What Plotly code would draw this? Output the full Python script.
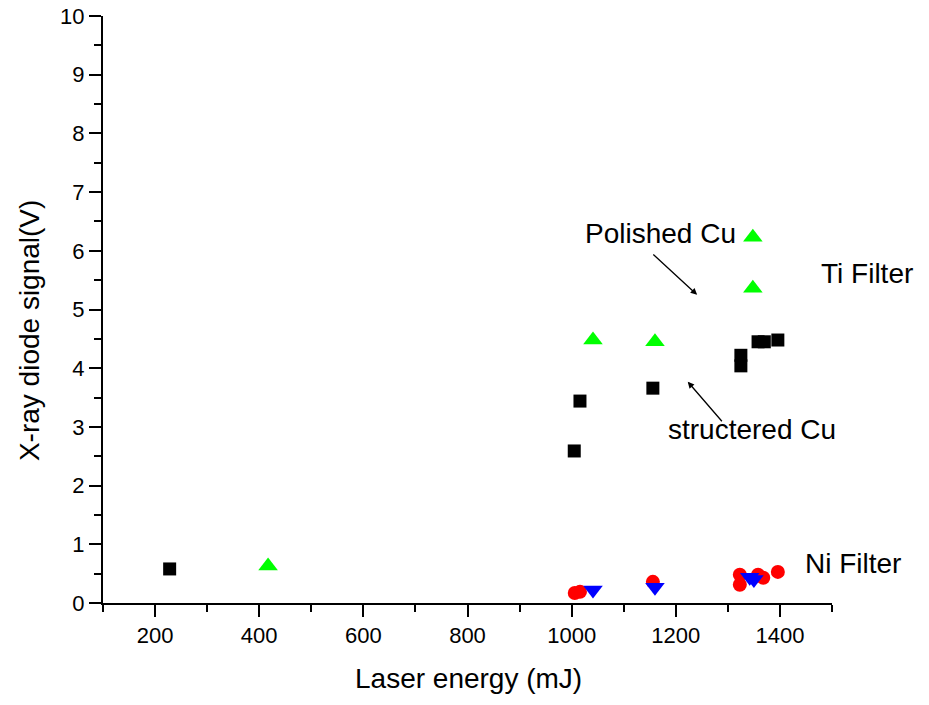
import plotly.graph_objects as go

# Ti filter, structured Cu (black squares)
sq_x = [228, 1005, 1016, 1156, 1325, 1325, 1358, 1370, 1396]
sq_y = [0.58, 2.59, 3.44, 3.66, 4.22, 4.04, 4.45, 4.45, 4.48]
# Ti filter, polished Cu (green up-triangles)
tri_x = [417, 1041, 1160, 1348, 1348]
tri_y = [0.63, 4.48, 4.45, 5.36, 6.23]
# Ni filter, structured Cu (red circles)
cir_x = [1006, 1016, 1156, 1323, 1323, 1358, 1368, 1396]
cir_y = [0.17, 0.19, 0.36, 0.48, 0.31, 0.48, 0.43, 0.53]
# Ni filter, polished Cu (blue down-triangles)
dtri_x = [1041, 1160, 1342, 1350]
dtri_y = [0.22, 0.27, 0.44, 0.40]

FAM = "Liberation Sans, Arial, sans-serif"

fig = go.Figure()
fig.add_trace(go.Scatter(x=sq_x, y=sq_y, mode="markers",
                         marker=dict(symbol="square", size=13, color="black")))
fig.add_trace(go.Scatter(x=cir_x, y=cir_y, mode="markers",
                         marker=dict(symbol="circle", size=14, color="red")))
fig.add_trace(go.Scatter(x=dtri_x, y=dtri_y, mode="markers",
                         marker=dict(symbol="triangle-down", size=17, color="blue")))
fig.add_trace(go.Scatter(x=tri_x, y=tri_y, mode="markers",
                         marker=dict(symbol="triangle-up", size=17, color="#00ff00")))

fig.update_layout(
    width=929, height=705,
    margin=dict(l=103, r=97, t=16, b=102, autoexpand=False),
    plot_bgcolor="white", paper_bgcolor="white",
    showlegend=False,
    font=dict(family=FAM, size=22, color="black"),
    xaxis=dict(range=[100, 1500], tick0=200, dtick=200, ticks="outside", ticklen=12,
               tickwidth=2, tickcolor="black", linewidth=2, linecolor="black", showline=True,
               showgrid=False, zeroline=False, tickfont=dict(size=22), automargin=False,
               minor=dict(dtick=100, tick0=100, ticks="outside", ticklen=7, tickwidth=2,
                          tickcolor="black", showgrid=False)),
    yaxis=dict(range=[0, 10], dtick=1, ticks="outside", ticklen=12,
               tickwidth=2, tickcolor="black", linewidth=2, linecolor="black", showline=True,
               showgrid=False, zeroline=False, tickfont=dict(size=22), automargin=False,
               minor=dict(dtick=0.5, ticks="outside", ticklen=7, tickwidth=2,
                          tickcolor="black", showgrid=False)),
)

ann_font = dict(family=FAM, size=28, color="black")
# axis titles
fig.add_annotation(xref="paper", yref="paper", x=0.5007, y=-0.128, text="Laser energy (mJ)",
                   showarrow=False, font=ann_font, xanchor="center", yanchor="middle")
fig.add_annotation(xref="paper", yref="paper", x=-0.100, y=0.4634, text="X-ray diode signal(V)",
                   showarrow=False, font=ann_font, textangle=-90,
                   xanchor="center", yanchor="middle")
# labels
fig.add_annotation(x=1170, y=6.30, text="Polished Cu", showarrow=False, font=ann_font)
fig.add_annotation(x=1241, y=5.25, ax=1154, ay=5.96, axref="x", ayref="y",
                   text="", showarrow=True, arrowhead=2, arrowsize=1, arrowwidth=1.3,
                   arrowcolor="black")
fig.add_annotation(xref="paper", x=1.048, y=5.62, text="Ti Filter", showarrow=False,
                   font=ann_font, xanchor="center")
fig.add_annotation(x=1346, y=2.95, text="structered Cu", showarrow=False, font=ann_font)
fig.add_annotation(x=1223, y=3.77, ax=1291, ay=3.07, axref="x", ayref="y",
                   text="", showarrow=True, arrowhead=2, arrowsize=1, arrowwidth=1.3,
                   arrowcolor="black")
fig.add_annotation(xref="paper", x=1.029, y=0.68, text="Ni Filter", showarrow=False,
                   font=ann_font, xanchor="center")

fig.write_html("out.html")
